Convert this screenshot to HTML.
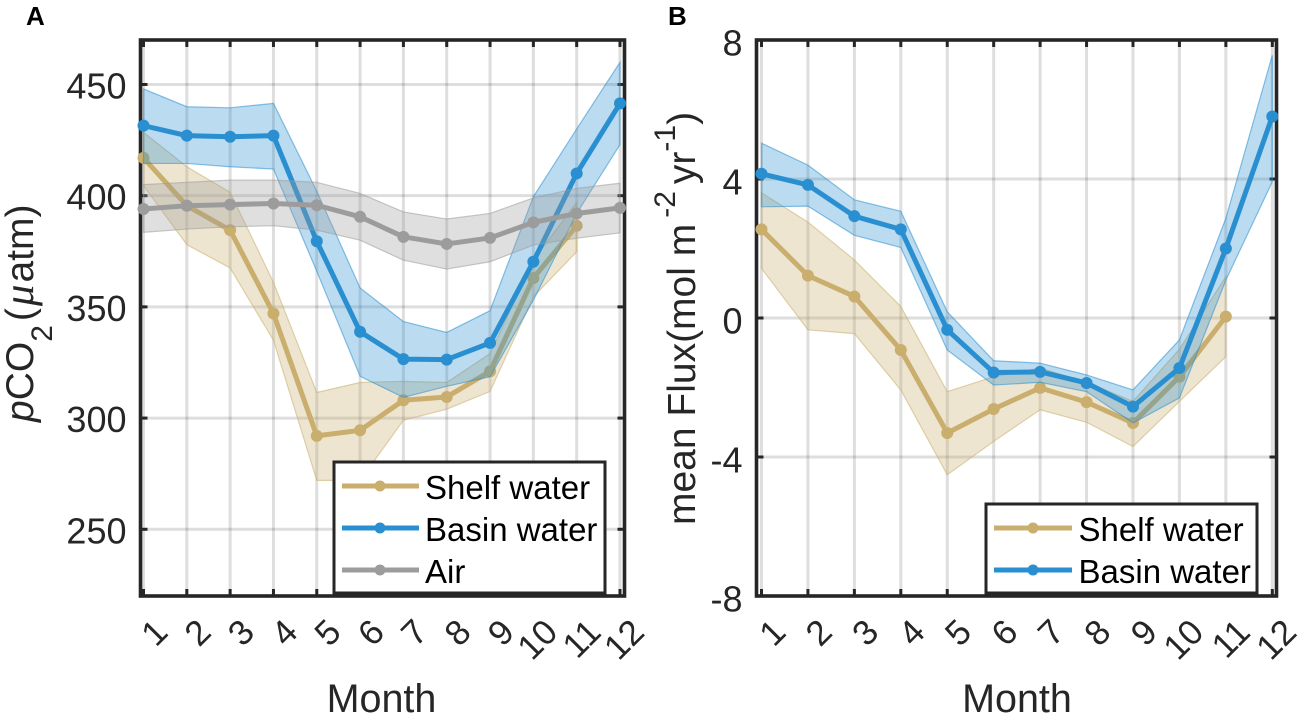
<!DOCTYPE html>
<html lang="en">
<head>
<meta charset="utf-8">
<title>Monthly pCO2 and mean flux</title>
<style>
html,body{margin:0;padding:0;background:#fff;width:1299px;height:714px;overflow:hidden}
svg{display:block;font-family:"Liberation Sans",sans-serif}
</style>
</head>
<body>
<svg id="fig" width="1299" height="714" viewBox="0 0 1299 714" xmlns="http://www.w3.org/2000/svg">
  <g id="panel-a"></g>
  <g id="panel-b"></g>

  <text x="26" y="25" font-size="26" font-weight="700" fill="#000">A</text>
  <text x="668" y="25" font-size="26" font-weight="700" fill="#000">B</text>

  <text transform="translate(33,422) rotate(-90)" font-size="39" fill="#262626"><tspan font-style="italic">p</tspan>CO<tspan font-size="30" dy="19">2</tspan><tspan dx="4" dy="-19">(</tspan><tspan font-style="italic" font-size="43" font-family="'Liberation Serif',serif" dx="2">μ</tspan><tspan dx="2">atm)</tspan></text>
  <text transform="translate(695,525) rotate(-90)" font-size="39" fill="#262626">mean Flux(mol m<tspan font-size="30" dx="6" dy="-20">-2</tspan><tspan dx="7" dy="20">yr</tspan><tspan font-size="30" dy="-20">-1</tspan><tspan dy="20">)</tspan></text>

  <text x="381.5" y="712" font-size="39.5" fill="#262626" text-anchor="middle">Month</text>
  <text x="1017" y="712" font-size="39.5" fill="#262626" text-anchor="middle">Month</text>

  <g>
    <rect x="334" y="462" width="271" height="131" fill="#fff" stroke="#262626" stroke-width="3"/>
    <g>
      <line x1="342" y1="486" x2="419" y2="486" stroke="#C9AE6E" stroke-width="5"/>
      <circle cx="380" cy="486" r="5.5" fill="#C9AE6E"/>
      <text x="425" y="499" font-size="33" fill="#000">Shelf water</text>
    </g>
    <g>
      <line x1="342" y1="528" x2="419" y2="528" stroke="#2A8FD0" stroke-width="5"/>
      <circle cx="380" cy="528" r="5.5" fill="#2A8FD0"/>
      <text x="425" y="541" font-size="33" fill="#000">Basin water</text>
    </g>
    <g>
      <line x1="342" y1="570" x2="419" y2="570" stroke="#9C9C9C" stroke-width="5"/>
      <circle cx="380" cy="570" r="5.5" fill="#9C9C9C"/>
      <text x="425" y="583" font-size="33" fill="#000">Air</text>
    </g>
  </g>

  <g>
    <rect x="986" y="504" width="271" height="89" fill="#fff" stroke="#262626" stroke-width="3"/>
    <g>
      <line x1="994" y1="528" x2="1072" y2="528" stroke="#C9AE6E" stroke-width="5"/>
      <circle cx="1033" cy="528" r="5.5" fill="#C9AE6E"/>
      <text x="1078.5" y="541" font-size="33" fill="#000">Shelf water</text>
    </g>
    <g>
      <line x1="994" y1="570" x2="1072" y2="570" stroke="#2A8FD0" stroke-width="5"/>
      <circle cx="1033" cy="570" r="5.5" fill="#2A8FD0"/>
      <text x="1078.5" y="583" font-size="33" fill="#000">Basin water</text>
    </g>
  </g>
</svg>

<script>
const months = [1,2,3,4,5,6,7,8,9,10,11,12];

const yTicksA = [250,300,350,400,450];
const shelfMeanA  = [417,395.5,384.5,347,292,294.5,308,309.5,321,363,386.5];
const shelfUpperA = [428.5,413,401.5,361,311.5,316,316.5,316,329,371,397];
const shelfLowerA = [404.5,378,367.5,335,272,272,299,304,312,354.5,374.8];
const basinMeanA  = [431.5,427,426.5,427,379.5,338.8,326.5,326.3,333.8,370.3,410,441.5];
const basinUpperA = [448,440,439.5,441.5,402,358.5,343.4,338.5,348.3,399.5,430,460];
const basinLowerA = [414.5,414.5,413,412,366,318.8,309.3,314.3,318.6,353,392,423];
const airMeanA    = [394,395.5,396,396.5,395.7,390.5,381.5,378.3,381,388,392,394.5];
const airUpperA   = [405,406,407,407,406,401,392.7,389.5,392,399,403.3,405.6];
const airLowerA   = [383.5,385,386,386.5,384.5,380,371,367,370.3,377.8,380.9,383.3];

const yTicksB = [-8,-4,0,4,8];
const shelfMeanB  = [2.55,1.22,0.62,-0.92,-3.31,-2.62,-2.01,-2.42,-3.02,-1.69,0.04];
const shelfUpperB = [3.6,2.76,1.67,0.33,-2.12,-1.69,-1.44,-1.85,-2.4,-0.9,1.19];
const shelfLowerB = [1.43,-0.34,-0.45,-2.07,-4.51,-3.55,-2.64,-3,-3.7,-2.4,-1.11];
const basinMeanB  = [4.15,3.83,2.93,2.55,-0.34,-1.57,-1.55,-1.87,-2.55,-1.44,2,5.8];
const basinUpperB = [5.03,4.4,3.4,3.07,0.18,-1.23,-1.3,-1.64,-2.07,-0.63,2.87,7.56];
const basinLowerB = [3.2,3.22,2.38,2.03,-0.92,-1.93,-1.85,-2.12,-3.02,-2.3,1.09,3.92];

const SVGNS = 'http://www.w3.org/2000/svg';
const SPINE = '#262626';
const SHELF = '#C9AE6E';
const BASIN = '#2A8FD0';
const AIR = '#9C9C9C';

function make(tag, parent, attrs) {
  const el = document.createElementNS(SVGNS, tag);
  for (const k in attrs) el.setAttribute(k, attrs[k]);
  parent.appendChild(el);
  return el;
}

function drawAxes(g, ax) {
  // gridlines
  ax.xTicks.forEach(function (m) {
    const line = make('line', g, {x1: ax.x(m), x2: ax.x(m), y1: ax.top, y2: ax.bottom, stroke: '#000', 'stroke-opacity': 0.13, 'stroke-width': 3});
    
    
  });
  ax.yTicks.forEach(function (v) {
    const line = make('line', g, {x1: ax.left, x2: ax.right, y1: ax.y(v), y2: ax.y(v), stroke: '#000', 'stroke-opacity': 0.13, 'stroke-width': 3});
    
    
  });
  // frame
  const frame = make('rect', g, {x: ax.left, y: ax.top, width: ax.right - ax.left, height: ax.bottom - ax.top, fill: 'none', stroke: SPINE, 'stroke-width': 3.6});
  
  
  // x ticks and labels
  ax.xTicks.forEach(function (m) {
    const top = make('line', g, {x1: ax.x(m), x2: ax.x(m), y1: ax.top, y2: ax.top + 7, stroke: SPINE, 'stroke-width': 3});
    
    
    const bot = make('line', g, {x1: ax.x(m), x2: ax.x(m), y1: ax.bottom, y2: ax.bottom - 7, stroke: SPINE, 'stroke-width': 3});
    
    
    const lx = ax.x(m) + 18;
    const ly = 626;
    const t = make('text', g, {x: 0, y: 0, 'font-size': 35, fill: SPINE, 'text-anchor': 'end', 'dominant-baseline': 'central', transform: 'translate(' + lx + ',' + ly + ') rotate(-45)'});
    
    
    t.textContent = String(m);
  });
  // y ticks and labels
  ax.yTicks.forEach(function (v) {
    const l = make('line', g, {x1: ax.left, x2: ax.left + 7, y1: ax.y(v), y2: ax.y(v), stroke: SPINE, 'stroke-width': 3});
    
    
    const r = make('line', g, {x1: ax.right, x2: ax.right - 7, y1: ax.y(v), y2: ax.y(v), stroke: SPINE, 'stroke-width': 3});
    
    
    const t = make('text', g, {x: ax.left - 14, y: ax.y(v) + ax.labelDrop, 'font-size': 36, fill: SPINE, 'text-anchor': 'end'});
    
    
    t.textContent = String(v);
  });
}

function drawSeries(g, ax, name, color, mean, upper, lower) {
  const up = upper.map(function (v, i) { return ax.x(months[i]) + ',' + ax.y(v); });
  const lo = lower.map(function (v, i) { return ax.x(months[i]) + ',' + ax.y(v); }).reverse();
  const band = make('polygon', g, {points: up.concat(lo).join(' '), fill: color, 'fill-opacity': 0.32, stroke: color, 'stroke-opacity': 0.55, 'stroke-width': 1.2});
  
  
  const pts = mean.map(function (v, i) { return ax.x(months[i]) + ',' + ax.y(v); }).join(' ');
  const line = make('polyline', g, {points: pts, fill: 'none', stroke: color, 'stroke-width': 5, 'stroke-linejoin': 'round'});
  
  
  mean.forEach(function (v, i) {
    const c = make('circle', g, {cx: ax.x(months[i]), cy: ax.y(v), r: 6, fill: color});
    
    
  });
}

function makeAxis(left, right, top, bottom, x1, x12, yMin, yMax, yTicks, labelDrop) {
  return {
    left: left, right: right, top: top, bottom: bottom, xTicks: months, yTicks: yTicks, labelDrop: labelDrop,
    x: function (m) { return x1 + (m - 1) * (x12 - x1) / 11; },
    y: function (v) { return bottom - (v - yMin) * (bottom - top) / (yMax - yMin); }
  };
}

const axisA = makeAxis(140.5, 624.5, 40, 596, 143.5, 620, 220, 470, yTicksA, 14);
const axisB = makeAxis(756.5, 1276.5, 40, 596, 761.5, 1272.3, -8, 8, yTicksB, 15.5);

const gA = document.getElementById('panel-a');
drawAxes(gA, axisA);
drawSeries(gA, axisA, 'shelf-water', SHELF, shelfMeanA, shelfUpperA, shelfLowerA);
drawSeries(gA, axisA, 'basin-water', BASIN, basinMeanA, basinUpperA, basinLowerA);
drawSeries(gA, axisA, 'air', AIR, airMeanA, airUpperA, airLowerA);

const gB = document.getElementById('panel-b');
drawAxes(gB, axisB);
drawSeries(gB, axisB, 'shelf-water', SHELF, shelfMeanB, shelfUpperB, shelfLowerB);
drawSeries(gB, axisB, 'basin-water', BASIN, basinMeanB, basinUpperB, basinLowerB);
</script>
</body>
</html>
